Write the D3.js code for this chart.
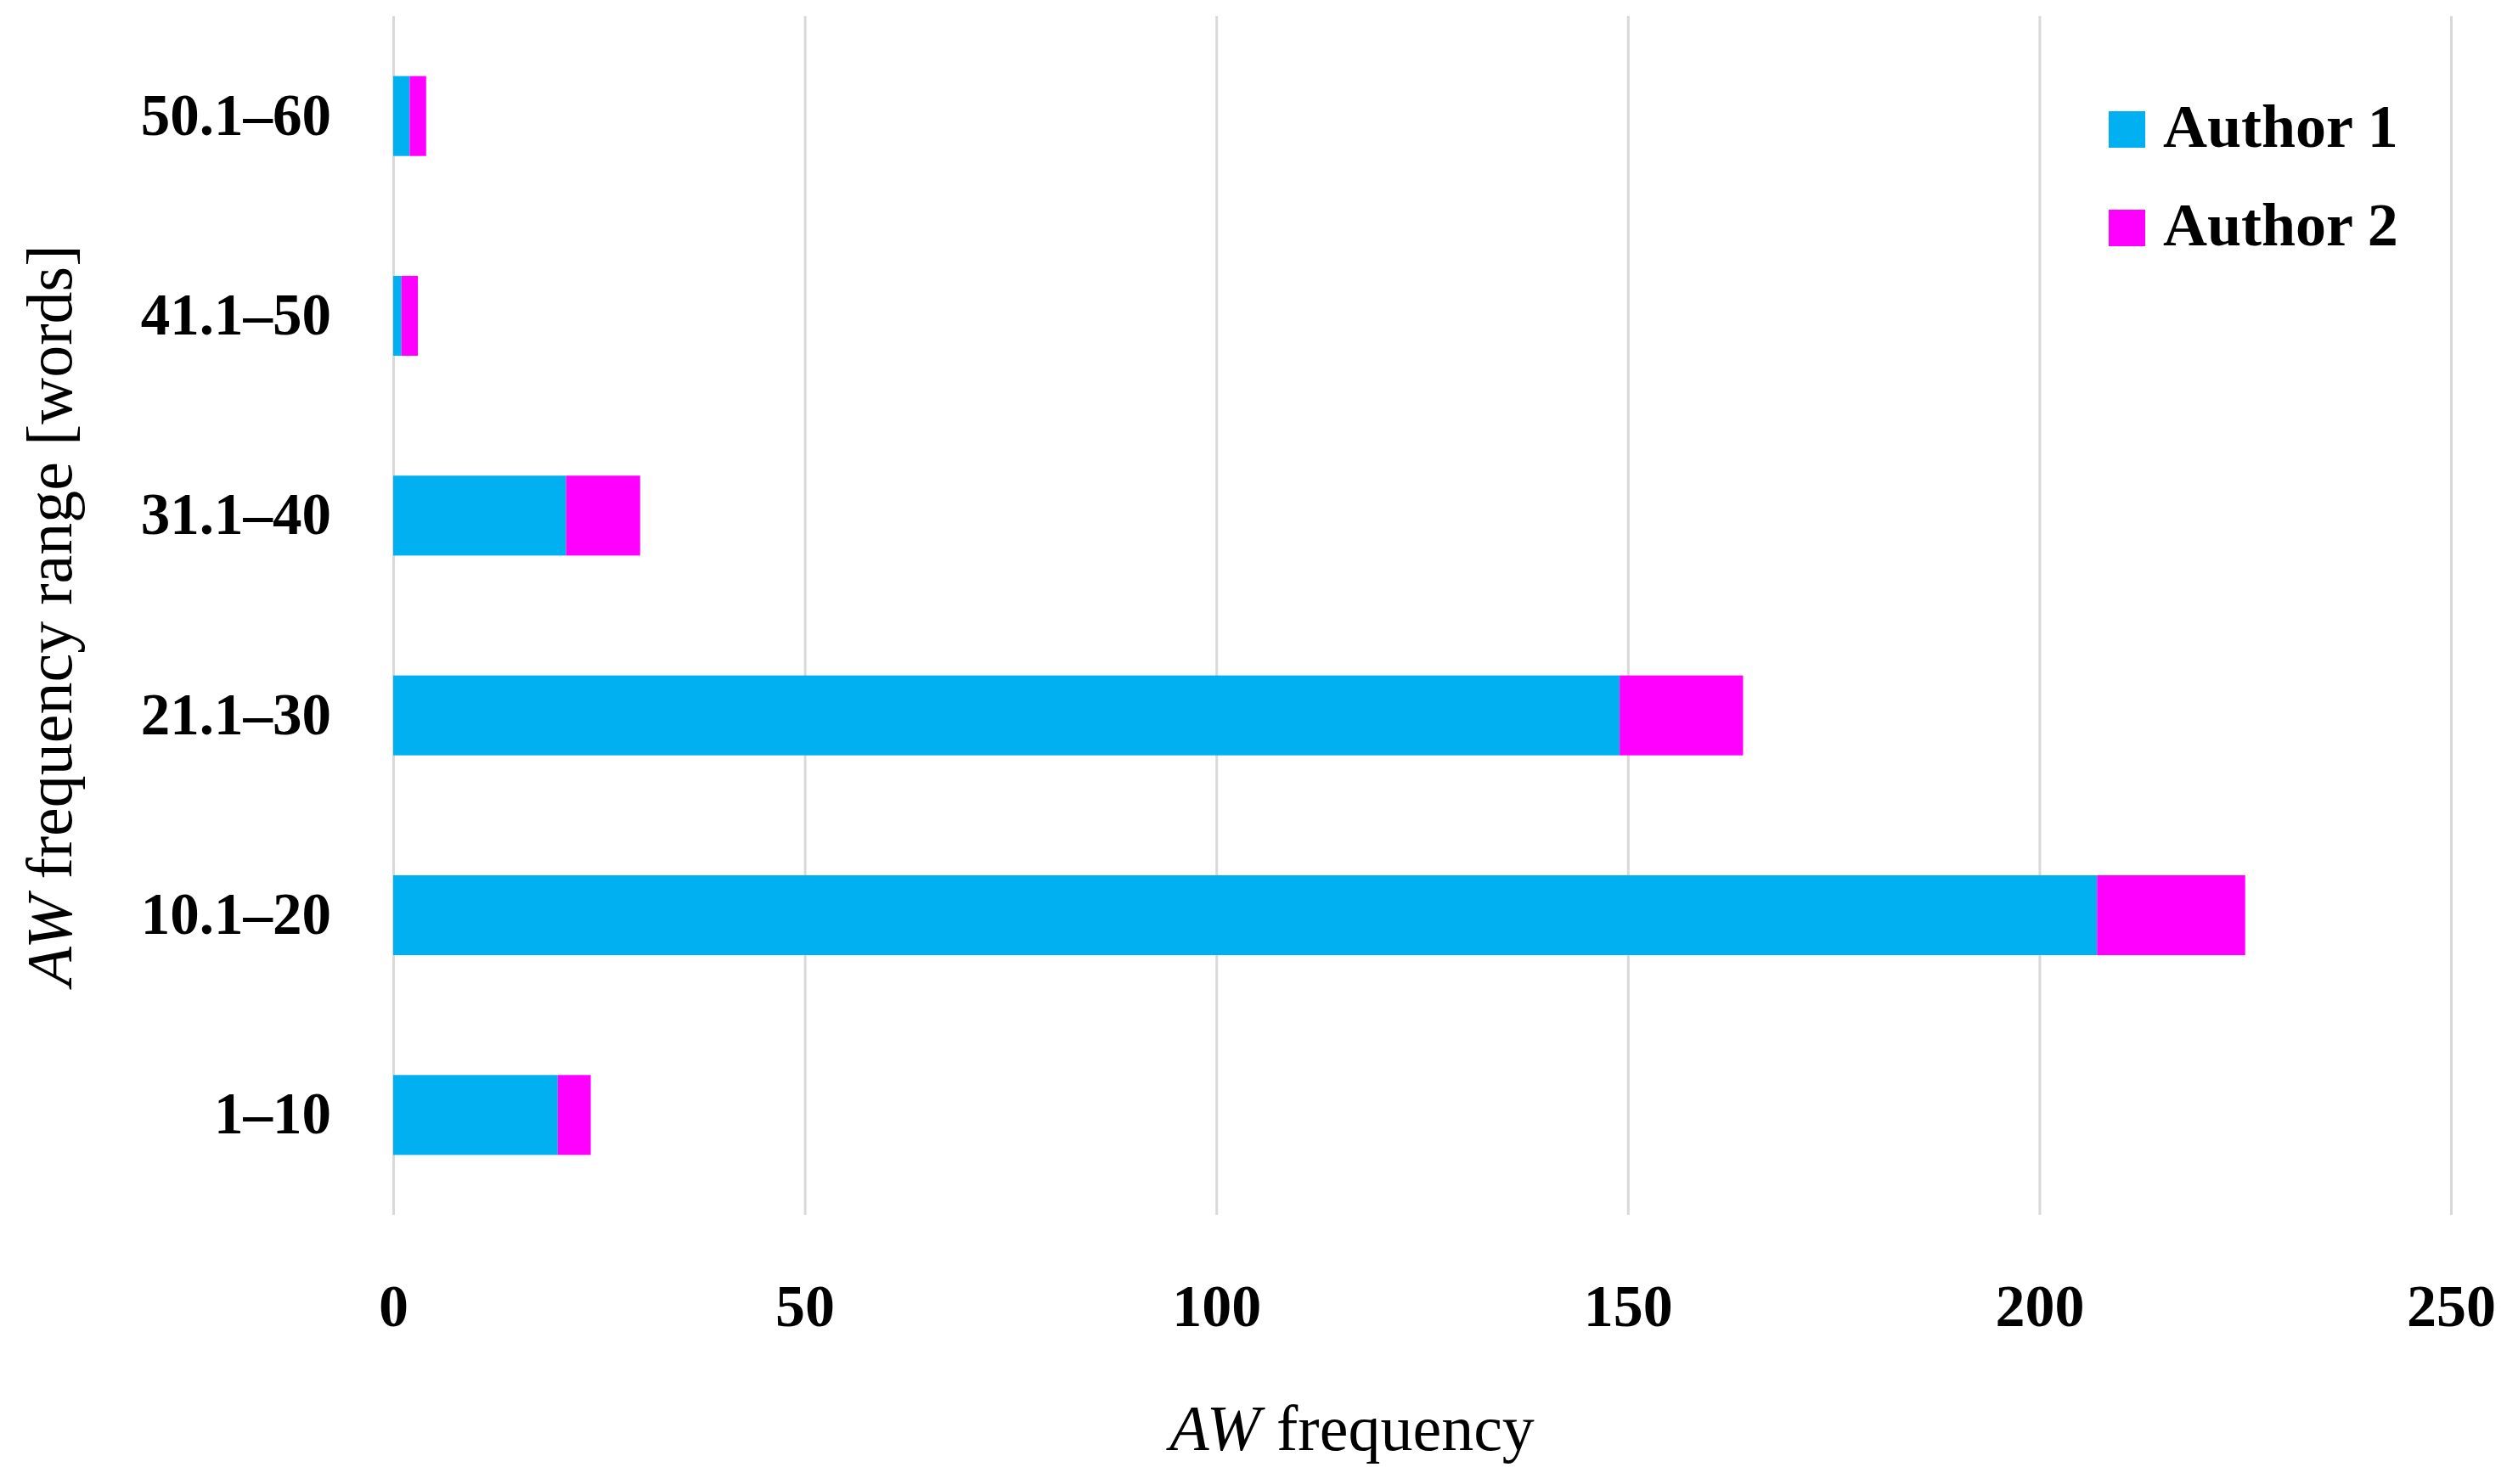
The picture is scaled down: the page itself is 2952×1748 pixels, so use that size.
<!DOCTYPE html>
<html>
<head>
<meta charset="utf-8">
<script src="https://cdn.jsdelivr.net/npm/d3@7"></script>
<style>
  body { margin: 0; background: #fff; }
  svg { display: block; }
  text { font-family: "Liberation Serif", "DejaVu Serif", serif; fill: #000; }
</style>
</head>
<body>
<svg id="chart" width="2952" height="1748"></svg>
<script>
// data
var ranges  = ["1–10", "10.1–20", "21.1–30", "31.1–40", "41.1–50", "50.1–60"];
var author1 = [20, 207, 149, 21, 1, 2];
var author2 = [4, 18, 15, 9, 2, 2];
var seriesNames  = ["Author 1", "Author 2"];
var seriesColors = ["#00B0F0", "#FF00FF"];
var xTicks = [0, 50, 100, 150, 200, 250];

var margin = {top: 19, right: 66, bottom: 317, left: 463};
var W = 2952, H = 1748;
var w = W - margin.left - margin.right,
    h = H - margin.top - margin.bottom;

var svg = d3.select("#chart");
var chart = svg.append("g")
    .attr("transform", "translate(" + margin.left + "," + margin.top + ")");

var x = d3.scaleLinear().domain([0, 250]).range([0, w]);
// top category first in the picture, so reverse the list for the band domain
var y = d3.scaleBand().domain(ranges.slice().reverse()).range([0, h])
    .paddingInner(0.6).paddingOuter(0.3);

// grid lines
chart.append("g")
    .attr("class", "grid")
    .attr("transform", "translate(0," + h + ")")
    .call(d3.axisBottom(x).tickValues(xTicks).tickSize(-h).tickFormat(""))
    .call(function(g) { g.select(".domain").remove(); })
    .selectAll("line")
    .style("stroke", "#d9d9d9")
    .style("stroke-width", 3);

// stacked bars
var rows = ranges.map(function(r, i) {
  return {range: r, a1: author1[i], a2: author2[i]};
});
var stack = d3.stack().keys(["a1", "a2"]);
var layers = stack(rows);

chart.selectAll("g.layer")
    .data(layers)
    .enter().append("g")
    .attr("class", "layer")
    .style("fill", function(d, i) { return seriesColors[i]; })
  .selectAll("rect")
    .data(function(d) { return d; })
    .enter().append("rect")
    .attr("x", function(d) { return x(d[0]); })
    .attr("y", function(d) { return y(d.data.range); })
    .attr("width", function(d) { return x(d[1]) - x(d[0]); })
    .attr("height", y.bandwidth());

// x tick labels
var xAxis = chart.append("g")
    .attr("transform", "translate(0," + h + ")")
    .call(d3.axisBottom(x).tickValues(xTicks).tickSize(0).tickPadding(81));
xAxis.select(".domain").remove();
xAxis.selectAll("text")
    .style("font-size", "70px")
    .style("font-weight", "bold")
    .style("font-family", "'Liberation Serif', serif");

// y tick labels
var yAxis = chart.append("g")
    .call(d3.axisLeft(y).tickSize(0).tickPadding(73));
yAxis.select(".domain").remove();
yAxis.selectAll("text")
    .style("font-size", "69px")
    .style("font-weight", "bold")
    .style("font-family", "'Liberation Serif', serif");

// axis titles
var xTitle = svg.append("text")
    .attr("x", 1592)
    .attr("y", 1708)
    .attr("text-anchor", "middle")
    .style("font-size", "76px");
xTitle.append("tspan").style("font-style", "italic").text("AW");
xTitle.append("tspan").text(" frequency");

var yTitle = svg.append("text")
    .attr("transform", "translate(84,725) rotate(-90)")
    .attr("text-anchor", "middle")
    .style("font-size", "76px");
yTitle.append("tspan").style("font-style", "italic").text("AW");
yTitle.append("tspan").text(" frequency  range [words]");

// legend
var legend = svg.append("g").attr("transform", "translate(2483,131)");
seriesNames.forEach(function(name, i) {
  var row = legend.append("g").attr("transform", "translate(0," + (i * 116) + ")");
  row.append("rect")
      .attr("x", 0).attr("y", 0)
      .attr("width", 43).attr("height", 43)
      .style("fill", seriesColors[i]);
  row.append("text")
      .attr("x", 64).attr("y", 42)
      .style("font-size", "72px")
      .style("font-weight", "bold")
      .text(name);
});
</script>
</body>
</html>
